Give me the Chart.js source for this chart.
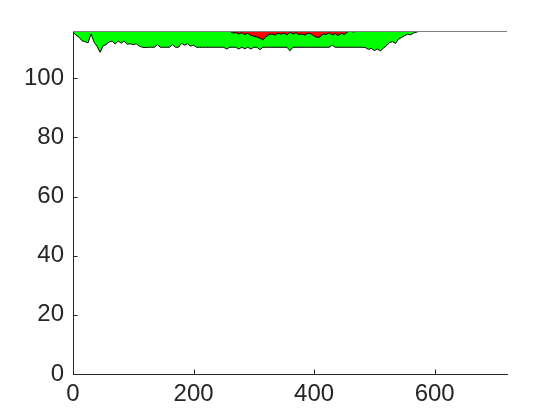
<!DOCTYPE html>
<html>
<head>
<meta charset="utf-8">
<script src="https://cdn.jsdelivr.net/npm/chart.js@4.4.1/dist/chart.umd.min.js"></script>
<style>
    html, body { margin: 0; padding: 0; background: #ffffff; }
    #chart-wrap { width: 560px; height: 420px; }
</style>
</head>
<body>
<div id="chart-wrap">
    <canvas id="area-chart" width="560" height="420"></canvas>
</div>

<script>
    // sample spacing along x for the boundary arrays below
    const xStep = 5;

    // lower edge of the green band, x = 0, 5, 10 ... 580
    const greenLower = [
        115.6, 114.6, 113.9, 112.7, 112.4, 112.0, 115.0, 112.2, 110.8, 108.8,
        111.0, 111.4, 112.3, 112.6, 111.6, 112.6, 111.9, 112.6, 111.5, 111.7,
        111.4, 111.7, 110.9, 110.5, 110.4, 110.5, 110.5, 110.5, 111.4, 110.5,
        110.5, 110.5, 110.5, 111.4, 110.5, 110.5, 111.8, 111.2, 111.7, 110.9,
        111.2, 110.5, 110.5, 110.5, 110.5, 110.5, 110.5, 110.5, 110.5, 110.5,
        110.5, 109.9, 110.5, 110.5, 110.5, 109.9, 110.5, 110.0, 110.5, 109.9,
        110.5, 110.5, 109.7, 110.5, 110.5, 110.5, 110.5, 110.5, 110.5, 110.5,
        110.5, 110.5, 109.3, 110.5, 110.5, 110.5, 110.5, 110.5, 110.5, 110.5,
        110.5, 110.5, 110.5, 110.5, 110.5, 110.5, 111.2, 110.5, 110.5, 110.5,
        110.5, 110.5, 110.5, 110.5, 110.5, 110.5, 110.5, 110.4, 109.8, 110.1,
        109.4, 109.9, 109.3, 110.2, 111.0, 112.1, 112.4, 111.8, 113.2, 113.8,
        114.4, 114.9, 114.7, 115.3, 115.6, 116.0, 116.0
    ];

    // lower edge of the red band, starting at x = 260
    const redStartX = 260;
    const redLower = [
        116.0, 115.3, 115.5, 115.0, 115.4, 114.8, 115.2, 114.6, 114.2, 114.0,
        113.6, 113.0, 114.0, 114.8, 115.0, 114.6, 115.2, 114.9, 115.3, 114.7,
        115.6, 115.0, 115.4, 114.8, 115.0, 114.6, 115.3, 115.0, 114.3, 113.8,
        114.0, 115.0, 114.8, 115.4, 114.7, 115.1, 114.5, 115.2, 114.8, 115.6,
        116.0, 115.6, 116.0
    ];

    // top line across the whole axis
    const topLevel = 116;
    const topLineX = [0, 720];

    const xMax = 720;
    const yMax = 116;
    const xTickValues = [0, 200, 400, 600];
    const yTickValues = [0, 20, 40, 60, 80, 100];

    const axisColor = '#262626';
    const tickFont = {family: "'Liberation Sans', Arial, Helvetica, sans-serif", size: 24};

    function toPoints(values, x0) {
        return values.map((v, i) => ({x: x0 + i * xStep, y: v}));
    }

    // MATLAB style inward tick marks
    const inwardTicks = {
        id: 'inwardTicks',
        afterDraw(chart) {
            const {ctx, chartArea, scales} = chart;
            const len = 4.5;
            ctx.save();
            ctx.strokeStyle = axisColor;
            ctx.lineWidth = 1;
            ctx.beginPath();
            xTickValues.forEach(v => {
                const px = Math.round(scales.x.getPixelForValue(v)) + 0.5;
                ctx.moveTo(px, chartArea.bottom);
                ctx.lineTo(px, chartArea.bottom - len);
            });
            yTickValues.forEach(v => {
                const py = Math.round(scales.y.getPixelForValue(v)) + 0.5;
                ctx.moveTo(chartArea.left, py);
                ctx.lineTo(chartArea.left + len, py);
            });
            ctx.stroke();
            ctx.restore();
        }
    };

    const ctx = document.getElementById('area-chart').getContext('2d');
    new Chart(ctx, {
        type: 'line',
        data: {
            datasets: [
                {
                    label: 'Top',
                    data: topLineX.map(x => ({x: x, y: topLevel})),
                    borderColor: '#7f7f7f',
                    borderWidth: 2,
                    pointRadius: 0,
                    fill: false
                },
                {
                    label: 'Red',
                    data: toPoints(redLower, redStartX),
                    borderColor: '#000000',
                    borderWidth: 1,
                    backgroundColor: '#ff0000',
                    pointRadius: 0,
                    tension: 0,
                    fill: 'end'
                },
                {
                    label: 'Green',
                    data: toPoints(greenLower, 0),
                    borderColor: '#000000',
                    borderWidth: 1,
                    backgroundColor: '#00ff00',
                    pointRadius: 0,
                    tension: 0,
                    fill: 'end'
                }
            ]
        },
        options: {
            responsive: false,
            animation: false,
            layout: {padding: {top: 31, right: 53, left: 0, bottom: 0}},
            plugins: {
                legend: {display: false},
                tooltip: {enabled: false}
            },
            scales: {
                x: {
                    type: 'linear',
                    min: 0,
                    max: xMax,
                    afterBuildTicks: scale => { scale.ticks = xTickValues.map(v => ({value: v})); },
                    afterFit: scale => { scale.height = 46; },
                    grid: {display: false, drawTicks: false},
                    border: {display: true, color: axisColor, width: 1},
                    ticks: {color: axisColor, font: tickFont, padding: 6, maxRotation: 0}
                },
                y: {
                    type: 'linear',
                    min: 0,
                    max: yMax,
                    afterBuildTicks: scale => { scale.ticks = yTickValues.map(v => ({value: v})); },
                    afterFit: scale => { scale.width = 73; },
                    grid: {display: false, drawTicks: false},
                    border: {display: true, color: axisColor, width: 1},
                    ticks: {color: axisColor, font: tickFont, padding: 9}
                }
            }
        },
        plugins: [inwardTicks]
    });
</script>
</body>
</html>
